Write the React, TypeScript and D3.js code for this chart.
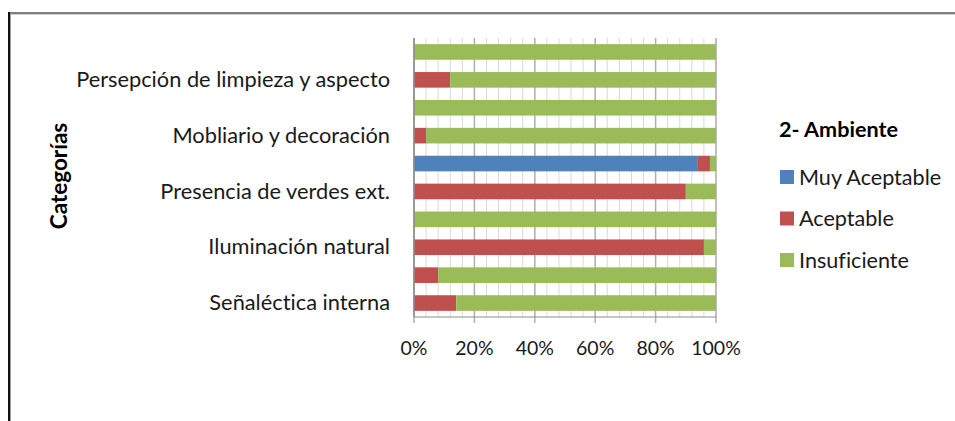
import React from "react";
import * as d3 from "d3";

// Categories listed top to bottom; empty labels are the hidden (skipped) axis labels
const categories = [
  "",
  "Persepción de limpieza y aspecto",
  "",
  "Mobliario y decoración",
  "",
  "Presencia de verdes ext.",
  "",
  "Iluminación natural",
  "",
  "Señaléctica interna",
];
const seriesNames = ["Muy Aceptable", "Aceptable", "Insuficiente"];
const muyAceptable = [0, 0, 0, 0, 94, 0, 0, 0, 0, 0];
const aceptable = [0, 12, 0, 4, 4, 90, 0, 96, 8, 14];
const insuficiente = [100, 88, 100, 96, 2, 10, 100, 4, 92, 86];
const tickValues = [0, 0.2, 0.4, 0.6, 0.8, 1];
const legendTitle = "2- Ambiente";
const axisTitle = "Categorías";

const colors = ["#4F81BD", "#C0504D", "#9BBB59"];
const FONT = "Lato, 'Open Sans', sans-serif";
const noLig = { fontVariantLigatures: "none" as const, fontFeatureSettings: "'liga' 0, 'dlig' 0, 'clig' 0" };

export default function App() {
  const W = 955, H = 421;
  const left = 414, right = 716, top = 38, bottom = 317;
  const x = d3.scaleLinear().domain([0, 1]).range([left, right]);
  const y = d3
    .scaleBand<number>()
    .domain(categories.map((_, i) => i))
    .range([top, bottom])
    .paddingInner(0.44)
    .paddingOuter(0.22);

  const rows = categories.map((c, i) => {
    const total = muyAceptable[i] + aceptable[i] + insuficiente[i];
    return {
      i,
      [seriesNames[0]]: muyAceptable[i] / total,
      [seriesNames[1]]: aceptable[i] / total,
      [seriesNames[2]]: insuficiente[i] / total,
    } as any;
  });
  const stacked = d3.stack<any>().keys(seriesNames)(rows);
  const minor = d3.range(0, 1.0001, 0.04);

  return (
    <svg
      width={W}
      height={H}
      style={{ position: "absolute", left: 0, top: 0, background: "#fff" }}
    >
      <rect x={0} y={0} width={W} height={H} fill="#fff" />
      {/* outer frame */}
      <line x1={9} x2={W} y1={13} y2={13} stroke="#808080" strokeWidth={2} />
      <line x1={9} x2={W} y1={14.5} y2={14.5} stroke="#d0d0d0" strokeWidth={1} />
      <line x1={9} x2={9} y1={12} y2={H} stroke="#111" strokeWidth={2} />
      <line x1={10.5} x2={10.5} y1={14} y2={H} stroke="#a0a0a0" strokeWidth={1} />

      {/* minor gridlines */}
      {minor.map((v, k) => (
        <line
          key={"mn" + k}
          x1={x(v)}
          x2={x(v)}
          y1={top}
          y2={bottom}
          stroke="#d9d9d9"
          strokeWidth={1}
        />
      ))}
      {/* major gridlines */}
      {tickValues.map((v, k) => (
        <line
          key={"mj" + k}
          x1={x(v)}
          x2={x(v)}
          y1={top}
          y2={bottom + 6}
          stroke="#b0b0b0"
          strokeWidth={1.5}
        />
      ))}

      {/* bars */}
      {stacked.map((s, si) =>
        s.map((d, di) =>
          d[1] - d[0] > 0 ? (
            <rect
              key={si + "-" + di}
              x={x(d[0])}
              width={x(d[1]) - x(d[0])}
              y={y(di)}
              height={y.bandwidth()}
              fill={colors[si]}
            />
          ) : null
        )
      )}

      {/* axes */}
      <line x1={left} x2={left} y1={top} y2={bottom} stroke="#8c8c8c" strokeWidth={1.5} />
      <line x1={left} x2={right} y1={bottom} y2={bottom} stroke="#8c8c8c" strokeWidth={1} />

      {/* category labels */}
      {categories.map((c, i) =>
        c ? (
          <text
            key={"c" + i}
            x={390}
            y={(y(i) as number) + y.bandwidth() / 2}
            dy="0.33em"
            textAnchor="end"
            fontFamily={FONT}
            fontSize={21.8}
            fill="#1a1a1a"
            style={noLig}
          >
            {c}
          </text>
        ) : null
      )}

      {/* x tick labels */}
      {tickValues.map((v, k) => (
        <text
          key={"t" + k}
          x={x(v)}
          y={355}
          textAnchor="middle"
          fontFamily={FONT}
          fontSize={19.5}
          fill="#1a1a1a"
        >
          {d3.format(".0%")(v)}
        </text>
      ))}

      {/* axis title */}
      <text
        transform={`translate(67,176) rotate(-90)`}
        textAnchor="middle"
        fontFamily={FONT}
        fontSize={22.5}
        fontWeight="bold"
        fill="#000"
        style={noLig}
      >
        {axisTitle}
      </text>

      {/* legend */}
      <text x={779} y={137} fontFamily={FONT} fontSize={21.6} fontWeight="bold" fill="#000" style={noLig}>
        {legendTitle}
      </text>
      {seriesNames.map((n, k) => (
        <g key={"l" + k} transform={`translate(780,${177 + k * 41.5})`}>
          <rect x={0} y={-7} width={14} height={14} fill={colors[k]} />
          <text x={19} y={0} dy="0.35em" fontFamily={FONT} fontSize={21.6} fill="#1a1a1a" style={noLig}>
            {n}
          </text>
        </g>
      ))}
    </svg>
  );
}
